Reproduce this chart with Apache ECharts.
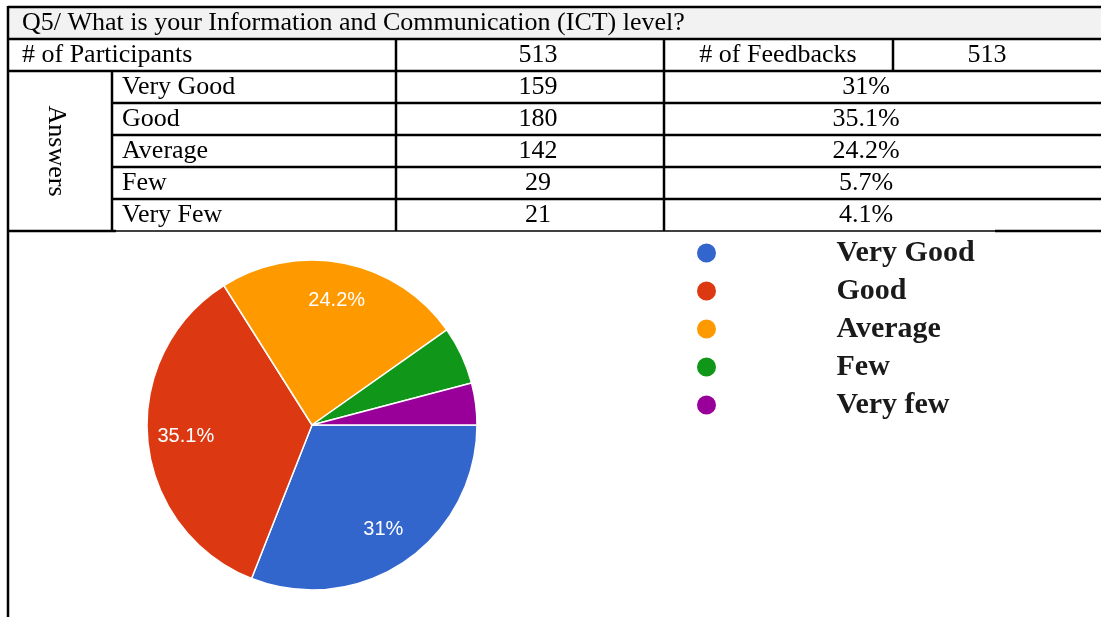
<!DOCTYPE html>
<html>
<head>
<meta charset="utf-8">
<script src="https://cdn.jsdelivr.net/npm/echarts@6/dist/echarts.min.js"></script>
<style>
  html, body { margin: 0; padding: 0; background: #ffffff; }
  #chart { width: 1101px; height: 617px; }
</style>
</head>
<body>
<div id="chart"></div>
<script>
// Survey question and totals
const questionTitle = 'Q5/ What is your Information and Communication (ICT) level?';
const participantsLabel = '# of Participants';
const feedbacksLabel = '# of Feedbacks';
const participants = 513;
const feedbacks = 513;
const groupLabel = 'Answers';

// Answer rows
const answerLabels = ['Very Good', 'Good', 'Average', 'Few', 'Very Few'];
const answerCounts = [159, 180, 142, 29, 21];
const answerPercents = [31, 35.1, 24.2, 5.7, 4.1];

// Pie legend names
const legendNames = ['Very Good', 'Good', 'Average', 'Few', 'Very few'];

// Slice palette
const sliceColors = ['#3366cc', '#dc3912', '#ff9900', '#109618', '#990099'];

const SERIF = '"Liberation Serif", "Times New Roman", serif';
const SANS = '"Liberation Sans", Arial, sans-serif';

// ---- table geometry ----
const T = { top: 7, rowH: 32, left: 8, ansCol: 112, numCol: 396, pctCol: 664, fbCol: 893, right: 1101 };
const rowY = i => T.top + T.rowH * i;          // horizontal rule i
const rowMid = i => T.top + T.rowH * i + T.rowH / 2;
const nRows = 2 + answerLabels.length;
const tableBottom = rowY(nRows);
const numMid = 538, fbLabelMid = 778, fbMid = 987, pctMid = 866;

const LW = 2.5;
function hLine(x1, x2, y, w) {
  return { type: 'line', z: 10, shape: { x1, y1: y, x2, y2: y }, style: { stroke: '#000', lineWidth: w || LW } };
}
function vLine(x, y1, y2, w) {
  return { type: 'line', z: 10, shape: { x1: x, y1, x2: x, y2 }, style: { stroke: '#000', lineWidth: w || LW } };
}
function cellText(text, x, y, align, extra) {
  return Object.assign({
    type: 'text', z: 11, x, y,
    style: {
      text: String(text), font: '26px ' + SERIF, fill: '#000',
      align: align, textAlign: align, verticalAlign: 'middle', textVerticalAlign: 'middle'
    }
  }, extra || {});
}

const graphics = [];
// title band
graphics.push({ type: 'rect', z: 5, shape: { x: T.left, y: rowY(0), width: T.right - T.left, height: T.rowH }, style: { fill: '#f2f2f2' } });
// horizontal rules
graphics.push(hLine(T.left, T.right, rowY(0)));
graphics.push(hLine(T.left, T.right, rowY(1)));
graphics.push(hLine(T.left, T.right, rowY(2)));
for (let i = 3; i < nRows; i++) graphics.push(hLine(T.ansCol, T.right, rowY(i)));
graphics.push(hLine(T.left + 2, T.right, tableBottom, 1.5));
graphics.push(hLine(T.left, T.ansCol + 4, tableBottom));
graphics.push(hLine(995, T.right, tableBottom));
// vertical rules
graphics.push(vLine(T.left, rowY(0) - 1, 617));
graphics.push(vLine(T.ansCol, rowY(2), tableBottom));
graphics.push(vLine(T.numCol, rowY(1), tableBottom));
graphics.push(vLine(T.pctCol, rowY(1), tableBottom));
graphics.push(vLine(T.fbCol, rowY(1), rowY(2)));
// texts
graphics.push(cellText(questionTitle, 22, rowMid(0), 'left'));
graphics.push(cellText(participantsLabel, 22, rowMid(1), 'left'));
graphics.push(cellText(participants, numMid, rowMid(1), 'center'));
graphics.push(cellText(feedbacksLabel, fbLabelMid, rowMid(1), 'center'));
graphics.push(cellText(feedbacks, fbMid, rowMid(1), 'center'));
answerLabels.forEach((lab, i) => {
  graphics.push(cellText(lab, 122, rowMid(2 + i), 'left'));
  graphics.push(cellText(answerCounts[i], numMid, rowMid(2 + i), 'center'));
  graphics.push(cellText(answerPercents[i] + '%', pctMid, rowMid(2 + i), 'center'));
});
graphics.push(cellText(groupLabel, 56, (rowY(2) + tableBottom) / 2, 'center', { rotation: -Math.PI / 2 }));

// ---- pie ----
const pieCenter = [312, 425];
const pieR = 165;
const pieData = legendNames.map((n, i) => ({ name: n, value: answerPercents[i] }));
const labelData = legendNames.map((n, i) => ({
  name: n, value: answerPercents[i],
  label: { show: answerPercents[i] >= 10 }
}));

const chart = echarts.init(document.getElementById('chart'), null, { renderer: 'canvas' });
chart.setOption({
  animation: false,
  backgroundColor: '#ffffff',
  color: sliceColors,
  graphic: { elements: graphics },
  legend: {
    orient: 'vertical',
    left: 695,
    top: 234,
    padding: 0,
    itemGap: 0,
    itemWidth: 250,
    itemHeight: 21,
    icon: 'circle',
    selectedMode: false,
    data: legendNames,
    textStyle: { fontFamily: SERIF, fontWeight: 'bold', fontSize: 30, color: '#1a1a1a', lineHeight: 38 }
  },
  series: [
    {
      type: 'pie',
      name: 'ICT level',
      center: pieCenter,
      radius: pieR,
      startAngle: 0,
      clockwise: true,
      silent: true,
      data: pieData,
      itemStyle: { borderColor: '#ffffff', borderWidth: 1.5 },
      label: { show: false },
      labelLine: { show: false }
    },
    {
      type: 'pie',
      name: 'ICT level labels',
      center: pieCenter,
      radius: [pieR / 2, pieR],
      startAngle: 0,
      clockwise: true,
      silent: true,
      data: labelData,
      itemStyle: { color: 'transparent', borderWidth: 0 },
      label: {
        position: 'inside', formatter: '{c}%', color: '#ffffff',
        fontFamily: SANS, fontSize: 20
      },
      labelLine: { show: false }
    }
  ]
});
</script>
</body>
</html>
